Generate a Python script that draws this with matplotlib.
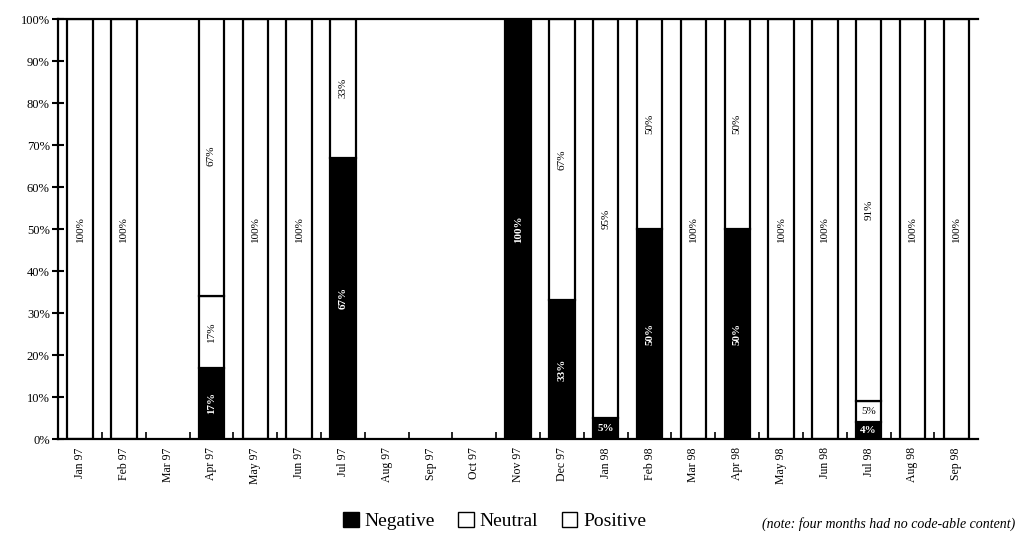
import numpy as np
import matplotlib
matplotlib.use("Agg")
import matplotlib.pyplot as plt
from matplotlib.patches import Patch

plt.rcParams['font.family'] = ['Liberation Serif', 'DejaVu Serif']

months = ["Jan 97", "Feb 97", "Mar 97", "Apr 97", "May 97", "Jun 97", "Jul 97",
          "Aug 97", "Sep 97", "Oct 97", "Nov 97", "Dec 97", "Jan 98", "Feb 98",
          "Mar 98", "Apr 98", "May 98", "Jun 98", "Jul 98", "Aug 98", "Sep 98"]
# None = month with no code-able content
negative = [0, 0, None, 17, 0, 0, 67, None, None, None, 100, 33, 5, 50, 0, 50, 0, 0, 4, 0, 0]
neutral = [0, 0, None, 17, 0, 0, 0, None, None, None, 0, 0, 0, 0, 0, 0, 0, 0, 5, 0, 0]
positive = [100, 100, None, 67, 100, 100, 33, None, None, None, 0, 67, 95, 50, 100, 50, 100, 100, 91, 100, 100]
neg_labels = [None, None, None, "17%", None, None, "67%", None, None, None, "100%", "33%", "5%",
              "50%", None, "50%", None, None, "4%", None, None]
neu_labels = [None, None, None, "17%", None, None, None, None, None, None, None, None, None,
              None, None, None, None, None, "5%", None, None]
pos_labels = ["100%", "100%", None, "67%", "100%", "100%", "33%", None, None, None, None, "67%",
              "95%", "50%", "100%", "50%", "100%", "100%", "91%", "100%", "100%"]

fig = plt.figure(figsize=(10.2, 5.43), dpi=100)
ax = fig.add_axes([0.057, 0.1915, 0.902, 0.7735])

x = np.arange(len(months))
w = 0.58
lw = 1.6

for i in x:
    if negative[i] is None:
        continue
    n, u, p = negative[i], neutral[i], positive[i]
    if n > 0:
        ax.bar(i, n, w, bottom=0, color='black', edgecolor='black', linewidth=lw)
    if u > 0:
        ax.bar(i, u, w, bottom=n, color='white', edgecolor='black', linewidth=lw)
    if p > 0:
        ax.bar(i, p, w, bottom=n + u, color='white', edgecolor='black', linewidth=lw)

    segs = [(n, 0, neg_labels[i], 'white', 'bold'),
            (u, n, neu_labels[i], 'black', 'normal'),
            (p, n + u, pos_labels[i], 'black', 'normal')]
    for size, base, lab, col, wt in segs:
        if lab is None or size == 0:
            continue
        rot = 0 if size < 8 else 90
        ax.text(i, base + size / 2, lab, ha='center', va='center', rotation=rot,
                color=col, fontsize=8, fontweight=wt)

ax.set_xlim(-0.5, len(months) - 0.5)
ax.set_ylim(0, 100)
ax.set_yticks(np.arange(0, 101, 10))
ax.set_yticklabels([f"{v}%" for v in range(0, 101, 10)], fontsize=9)
ax.tick_params(axis='y', direction='inout', length=8, width=1.5, pad=2)

ax.set_xticks(x)
ax.set_xticklabels(months, rotation=90, fontsize=8.5)
ax.tick_params(axis='x', which='major', length=0, pad=6)
ax.set_xticks(x[:-1] + 0.5, minor=True)
ax.tick_params(axis='x', which='minor', direction='in', length=5, width=1.2)

for s in ['left', 'bottom', 'top']:
    ax.spines[s].set_linewidth(1.6)
ax.spines['right'].set_visible(False)

handles = [Patch(facecolor='black', edgecolor='black', label='Negative'),
           Patch(facecolor='white', edgecolor='black', label='Neutral'),
           Patch(facecolor='white', edgecolor='black', label='Positive')]
fig.legend(handles=handles, loc='center', bbox_to_anchor=(0.485, 0.04), ncol=3,
           frameon=False, fontsize=14, handlelength=0.8, handleheight=0.8,
           handletextpad=0.3, columnspacing=1.2)

fig.text(0.995, 0.035, "(note: four months had no code-able content)", ha='right',
         va='center', fontsize=10, style='italic')

fig.savefig("out.png", dpi=100)
